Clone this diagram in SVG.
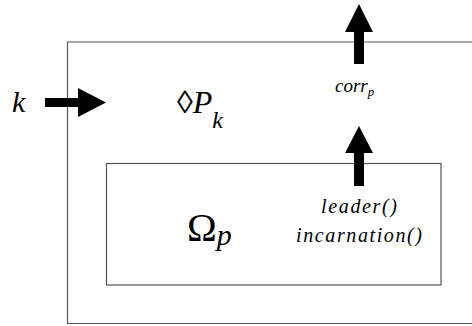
<svg xmlns="http://www.w3.org/2000/svg" width="472" height="326" viewBox="0 0 472 326">
<style>
.box{fill:none;stroke:#555;stroke-width:1.2}
.arr{fill:#000;stroke:none}
.i{font-style:italic}
</style>
<rect width="472" height="326" fill="#fff"/>
<g id="outer">
<path class="box" d="M472 42 H67.5 V323.5 H472"/>
<text x="177" y="113" font-size="32" font-family="Liberation Serif, DejaVu Serif, serif">◊<tspan class="i">P</tspan><tspan class="i" font-size="24" dy="15">k</tspan></text>
</g>
<g id="inner">
<rect class="box" x="106.5" y="163.5" width="334.5" height="121.5" stroke="#666"/>
<text x="187" y="241" font-size="40" font-family="Liberation Serif, DejaVu Serif, serif">Ω<tspan class="i" font-size="30" dy="4">p</tspan></text>
<text class="i" x="359" y="213" font-size="20" text-anchor="middle" textLength="76" lengthAdjust="spacing" font-family="Liberation Serif, DejaVu Serif, serif">leader()</text>
<text class="i" x="359" y="242" font-size="20" text-anchor="middle" textLength="126" lengthAdjust="spacing" font-family="Liberation Serif, DejaVu Serif, serif">incarnation()</text>
</g>
<g id="input-k">
<text class="i" x="12" y="112" font-size="30" font-family="Liberation Serif, DejaVu Serif, serif">k</text>
</g>
<g id="output-corr">
<text class="i" x="335" y="92" font-size="19" font-family="Liberation Serif, DejaVu Serif, serif">corr<tspan font-size="13" dy="4">p</tspan></text>
</g>
<g id="connectors">
<polygon class="arr" points="45,98 78,98 78,88 106,102.5 78,117 78,107 45,107"/>
<polygon class="arr" points="354,64 354,32 345,32 359,4 373,32 364,32 364,64"/>
<polygon class="arr" points="354,186 354,153 345,153 359,126 373,153 364,153 364,186"/>
</g>
</svg>
